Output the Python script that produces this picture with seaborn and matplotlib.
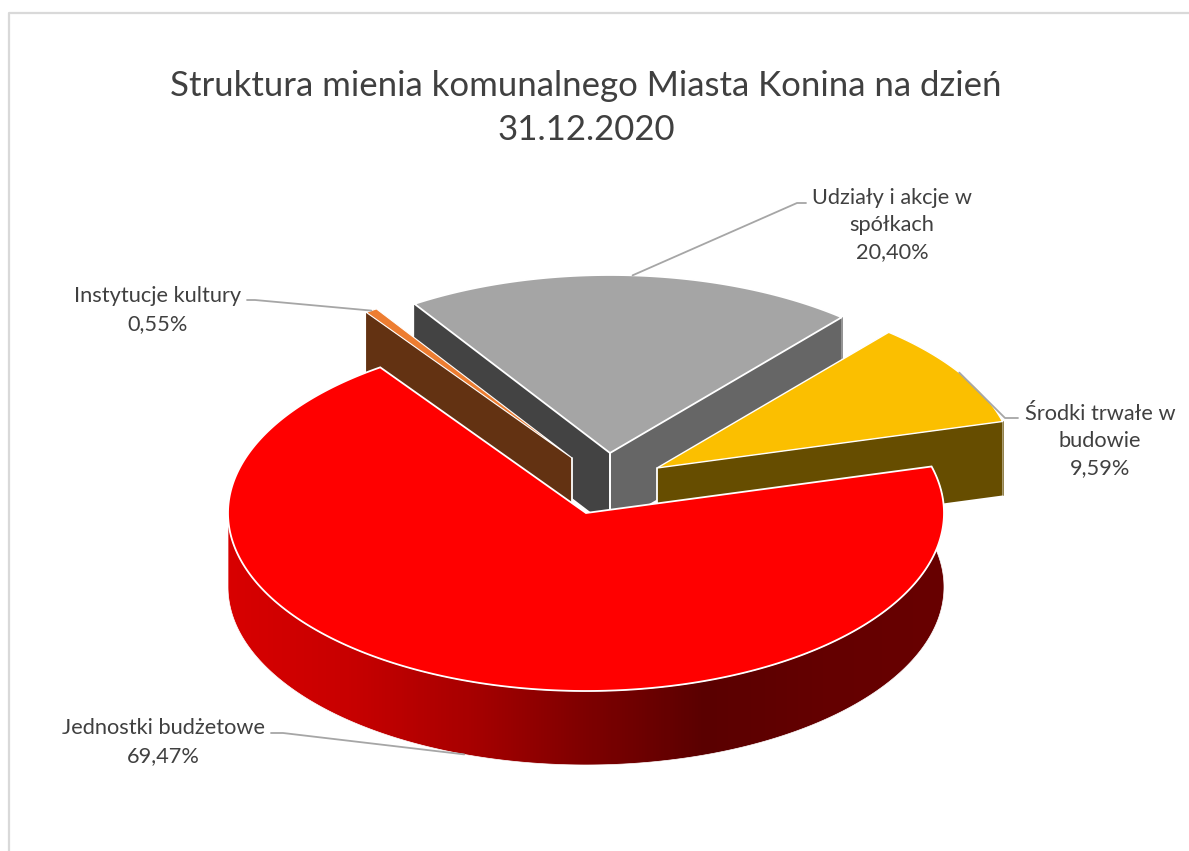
import numpy as np
import matplotlib
matplotlib.use("Agg")
import matplotlib.pyplot as plt
from matplotlib.patches import Polygon
from matplotlib.colors import ListedColormap
import seaborn as sns

# Data
categories = ["Jednostki budżetowe", "Instytucje kultury", "Udziały i akcje w\nspółkach", "Środki trwałe w\nbudowie"]
shares = [69.47, 0.55, 20.40, 9.59]
title_text = "Struktura mienia komunalnego Miasta Konina na dzień\n31.12.2020"

top_colors = ["#ff0000", "#ed7d31", "#a5a5a5", "#fbbf00"]
rim_colors = ["#d80000", "#c80000", "#a80000", "#7e0000", "#5a0000", "#640000", "#680000"]

sns.set_theme(style="white")
plt.rcParams["font.family"] = ["Lato", "DejaVu Sans"]

# Pie layout in pixels
RX, RY, DEPTH = 358, 178, 74
FIRST_ANGLE = 15.15
centers = [(586, 513), (572, 458), (610, 453), (657, 468)]
cut_colors = [None, "#633212", ("#434343", "#666666"), "#664d00"]
TEXT = "#404040"
LINE = "#a6a6a6"

fig, ax = plt.subplots(figsize=(11.89, 8.51), dpi=100)
fig.subplots_adjust(0, 0, 1, 1)

# frame of the chart area
ax.plot([9, 9, 1189], [851, 13, 13], color="#d9d9d9", lw=1.6, zorder=1)

# slice angles, clockwise from the first angle
sweeps = np.array(shares) / sum(shares) * 360
ends = FIRST_ANGLE - np.cumsum(sweeps)
starts = ends + sweeps


def rim(center, angles):
    t = np.radians(angles)
    return np.column_stack([center[0] + RX * np.cos(t), center[1] - RY * np.sin(t)])


def top_poly(i):
    return np.vstack([[centers[i]], rim(centers[i], np.linspace(starts[i], ends[i], 300))])


def cut_face(i, angle, color, z):
    a = rim(centers[i], [angle])[0]
    c = np.array(centers[i])
    d = np.array([0, DEPTH])
    ax.fill(*np.array([c, a, a + d, c + d]).T, color=color, ec="none", zorder=z)
    ax.plot(*np.array([a, a + d]).T, color=color, lw=0.5, zorder=z)
    ax.plot(*np.array([c, c + d]).T, color="white", lw=1.3, zorder=z + 0.1)


# gray slice
cut_face(2, starts[2], cut_colors[2][0], 2)
cut_face(2, ends[2], cut_colors[2][1], 2)
ax.fill(*top_poly(2).T, fc=top_colors[2], ec="white", lw=1.3, zorder=3)

# yellow slice
cut_face(3, ends[3], cut_colors[3], 4)
ax.fill(*top_poly(3).T, fc=top_colors[3], ec="white", lw=1.0, zorder=5)

# orange slice
cut_face(1, starts[1], cut_colors[1], 6)
ax.fill(*top_poly(1).T, fc=top_colors[1], ec="white", lw=0.8, zorder=7)

# red slice: rim with horizontal gradient clipped to its outline
rim_pts = rim(centers[0], np.linspace(180, 360 + FIRST_ANGLE, 500))
outline = np.vstack([rim_pts, rim_pts[::-1] + [0, DEPTH]])
left, right = centers[0][0] - RX, centers[0][0] + RX
shade = ListedColormap(sns.blend_palette(rim_colors, 256))
img = ax.imshow(np.linspace(0, 1, 716)[None, :], cmap=shade, aspect="auto", extent=(left, right, 851, 0), zorder=8)
img.set_clip_path(Polygon(outline, transform=ax.transData))
ax.add_patch(Polygon(outline, fc="none", ec="white", lw=0.5, zorder=8.5))
ax.fill(*top_poly(0).T, fc=top_colors[0], ec="white", lw=1.3, zorder=9)

# leader lines, from each slice's middle to its label
mids = (starts + ends) / 2
anchors = [rim(centers[i], [mids[i]])[0] for i in range(4)]
anchors[0] = anchors[0] + [0, DEPTH]
elbows = [[(283, 733), (271, 733)], [(255, 300), (247, 300)], [(797, 203), (806, 203)], [(1005, 418), (1018, 418)]]
for a, e in zip(anchors, elbows):
    pts = np.vstack([a, e])
    ax.plot(pts[:, 0], pts[:, 1], color=LINE, lw=1.3, zorder=10, solid_joinstyle="round")

# labels
label_pos = [(163, 742), (158, 310), (892, 225), (1100, 441)]
for name, v, (x, y) in zip(categories, shares, label_pos):
    txt = name + "\n" + f"{v:.2f}".replace(".", ",") + "%"
    ax.text(x, y, txt, ha="center", va="center", fontsize=15.7, color=TEXT, linespacing=1.45, zorder=11)

ax.text(586, 108, title_text, ha="center", va="center", fontsize=25, color=TEXT, linespacing=1.5, zorder=11)

ax.set_xlim(0, 1189)
ax.set_ylim(851, 0)
ax.axis("off")

fig.savefig("out.png", dpi=100)
